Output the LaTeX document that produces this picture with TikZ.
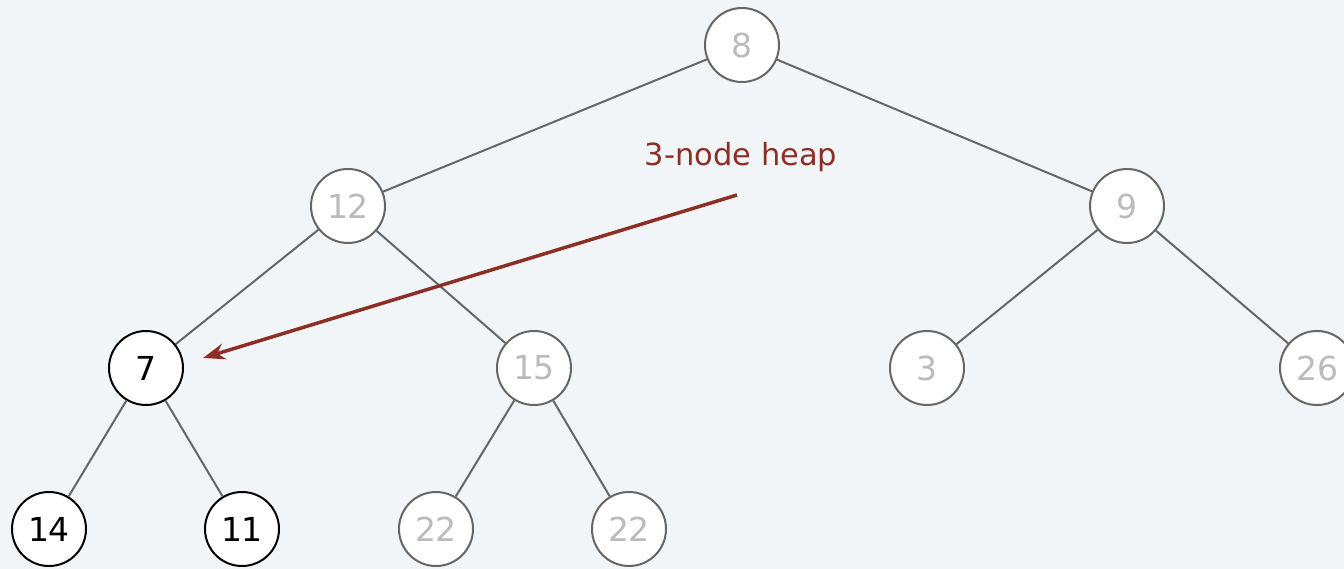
\documentclass[tikz,border=0pt]{standalone}
\usepackage{fontspec}
\setmainfont{DejaVu Sans}
\usetikzlibrary{arrows.meta}
\definecolor{bg}{HTML}{F2F5F8}
\definecolor{edgegray}{HTML}{666666}
\definecolor{txtgray}{HTML}{BBBBBB}
\definecolor{heapred}{HTML}{8C2F25}
\begin{document}
\begin{tikzpicture}[x=1pt,y=-1pt,
  heapnode/.style={circle,draw=edgegray,fill=white,line width=2pt,minimum size=74pt,inner sep=0pt,text=txtgray,font=\fontsize{33}{33}\selectfont},
  blacknode/.style={heapnode,draw=black,text=black},
  treeedge/.style={draw=edgegray,line width=2pt},
  callout/.style={draw=heapred,line width=3.5pt,-{Stealth[length=22pt,width=16pt]}}]
\fill[bg] (0,0) rectangle (1344,569);
\useasboundingbox (0,0) rectangle (1344,569);
\node[heapnode] (n8) at (742,45) {8};
\node[heapnode] (n12) at (348,206) {12};
\node[heapnode] (n9) at (1127,206) {9};
\node[blacknode] (n7) at (146,368) {7};
\node[heapnode] (n15) at (534,368) {15};
\node[heapnode] (n3) at (927,368) {3};
\node[heapnode] (n26) at (1317,368) {26};
\node[blacknode] (n14) at (49,529) {14};
\node[blacknode] (n11) at (242,529) {11};
\node[heapnode] (n22a) at (436,529) {22};
\node[heapnode] (n22b) at (629,529) {22};
\draw[treeedge] (n8) -- (n12);
\draw[treeedge] (n8) -- (n9);
\draw[treeedge] (n12) -- (n7);
\draw[treeedge] (n12) -- (n15);
\draw[treeedge] (n9) -- (n3);
\draw[treeedge] (n9) -- (n26);
\draw[treeedge] (n7) -- (n14);
\draw[treeedge] (n7) -- (n11);
\draw[treeedge] (n15) -- (n22a);
\draw[treeedge] (n15) -- (n22b);
\node[text=heapred,font=\fontsize{30.5}{30.5}\selectfont] (lbl) at (741,157) {3-node heap};
\coordinate (tail) at (737,195);
\coordinate (tip) at (203,358);
\draw[callout] (tail) -- (tip);
\end{tikzpicture}
\end{document}
